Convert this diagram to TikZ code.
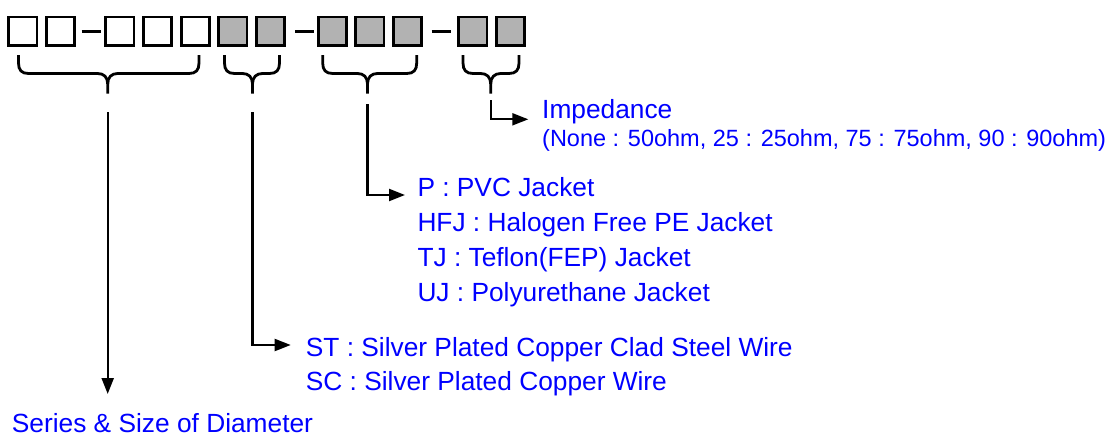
\documentclass[tikz,border=0pt]{standalone}
\usepackage{fontspec}
\setmainfont{Liberation Sans}
\usetikzlibrary{arrows.meta}
\definecolor{txtblue}{RGB}{0,0,255}
\begin{document}
\begin{tikzpicture}[x=1pt,y=-1pt,
  box/.style={draw=black,line width=2.8pt,minimum width=28.2pt,minimum height=28.2pt,inner sep=0pt},
  graybox/.style={box,fill=black!30},
  dashline/.style={line width=3.8pt},
  bracestyle/.style={line width=2.8pt,line cap=butt},
  conn/.style={line width=2.1pt,-{Triangle[length=16pt,width=12pt]}},
  lbl/.style={anchor=base west,inner sep=0pt,text=txtblue,font=\fontsize{26.3}{30}\selectfont},
  slbl/.style={lbl,font=\fontsize{23.5}{28}\selectfont}]
\useasboundingbox (0,0) rectangle (1109,437);
% code boxes
\foreach \c/\n in {22.8/1,60.5/2,119.8/3,157.4/4,195.2/5}
  \node[box] (b\n) at (\c,31) {};
\foreach \c/\n in {232.8/6,270.3/7,332.2/8,369.8/9,407.3/10,472.8/11,510.5/12}
  \node[graybox] (b\n) at (\c,31) {};
% dashes
\draw[dashline] (81.7,31.5) -- (100.7,31.5);
\draw[dashline] (295,31.5) -- (314,31.5);
\draw[dashline] (431.7,31.5) -- (450.7,31.5);
% braces
\foreach \l/\m/\r/\n in {18.5/107.7/199/1,224.5/252.5/279.5/2,322.7/367.5/416.7/3,463/490.7/519/4}{
  \draw[bracestyle] (\l,55) -- (\l,63) .. controls (\l,70) and (\l+3,73.5) .. (\l+10,73.5)
     -- (\m-10,73.5) .. controls (\m-4,73.5) and (\m,77) .. (\m,84) -- (\m,93.5);
  \draw[bracestyle] (\r,55) -- (\r,63) .. controls (\r,70) and (\r-3,73.5) .. (\r-10,73.5)
     -- (\m+10,73.5) .. controls (\m+4,73.5) and (\m,77) .. (\m,84);
  \coordinate (t\n) at (\m,93.5);
}
% connector starts and ends
\coordinate (s1) at (107.7,112);
\coordinate (s2) at (252.5,112);
\coordinate (s3) at (367.5,104);
\coordinate (s4) at (490.7,100);
\coordinate (e1) at (107.7,394);
\coordinate (e2) at (290.7,345);
\coordinate (e3) at (405,195);
\coordinate (e4) at (528.3,119.3);
% labels
\node[lbl] (imp) at (542,118.3) {Impedance};
\node[slbl] (impv) at (542,146.7) {(None : 50ohm, 25 : 25ohm, 75 : 75ohm, 90 : 90ohm)};
\node[lbl] (p) at (417.3,196.7) {P : PVC Jacket};
\node[lbl] (hfj) at (417.3,231.7) {HFJ : Halogen Free PE Jacket};
\node[lbl] (tj) at (417.3,266.7) {TJ : Teflon(FEP) Jacket};
\node[lbl] (uj) at (417.3,301.7) {UJ : Polyurethane Jacket};
\node[lbl] (st) at (305.7,356) {ST : Silver Plated Copper Clad Steel Wire};
\node[lbl] (sc) at (305.7,390) {SC : Silver Plated Copper Wire};
\node[lbl] (ser) at (11.7,432.5) {Series \& Size of Diameter};
% connectors
\draw[conn] (s1) -- (e1);
\draw[conn] (s2) |- (e2);
\draw[conn] (s3) |- (e3);
\draw[conn] (s4) |- (e4);
\end{tikzpicture}
\end{document}
